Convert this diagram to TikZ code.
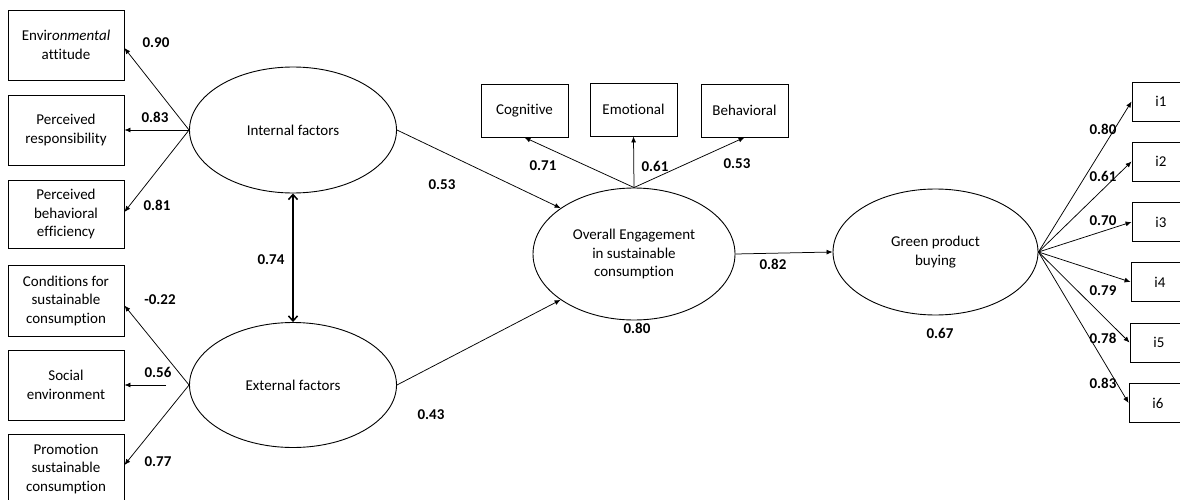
\documentclass[tikz,border=0pt]{standalone}
\usepackage{fontspec}
\setmainfont{Carlito}[Ligatures={NoCommon}]
\usetikzlibrary{arrows.meta,shapes.geometric}
\tikzset{
  box/.style={draw, line width=0.9pt, inner sep=0pt, align=center, font=\fontsize{15}{18.5}\selectfont},
  lbox/.style={box, minimum width=116pt, minimum height=70pt},
  tbox/.style={box, minimum width=87pt, minimum height=53pt},
  ibox/.style={box, minimum width=58pt, minimum height=39pt},
  lat/.style={draw, ellipse, line width=0.9pt, inner sep=0pt, align=center, font=\fontsize{15}{18.5}\selectfont},
  path/.style={draw, line width=0.75pt, -{Latex[length=6pt,width=5pt]}},
  lab/.style={font=\fontsize{15}{18}\selectfont\bfseries, inner sep=0pt},
}
\begin{document}
\begin{tikzpicture}[x=1pt,y=-1pt]
\clip (0,0) rectangle (1180,500);
% left indicators
\node[lbox] (ea) at (66,45) {Envir\textit{onmental}\\attitude};
\node[lbox] (pr) at (66,130) {Perceived\\responsibility};
\node[lbox, minimum height=68pt] (pbe) at (66,214) {Perceived\\behavioral\\efficiency};
\node[lbox, minimum height=71pt] (cs) at (66,300.5) {Conditions for\\sustainable\\consumption};
\node[lbox] (se) at (66,385) {Social\\environment};
\node[lbox] (ps) at (66,469) {Promotion\\sustainable\\consumption};
% latent variables
\node[lat, minimum width=207pt, minimum height=126pt] (int) at (293,130) {Internal factors};
\node[lat, minimum width=207pt, minimum height=125pt] (ext) at (293,385) {External factors};
\node[lat, minimum width=202pt, minimum height=132pt] (eng) at (634,254) {Overall Engagement\\in sustainable\\consumption};
\node[lat, minimum width=205pt, minimum height=126pt] (gpb) at (935.5,252) {Green product\\buying};
% engagement indicators
\node[tbox] (cog) at (524.5,110.5) {Cognitive};
\node[tbox] (emo) at (633.5,109.5) {Emotional};
\node[tbox] (beh) at (744.5,110.5) {Behavioral};
% item boxes
\node[ibox] (i1) at (1161,101.5) {i1};
\node[ibox] (i2) at (1161,161.5) {i2};
\node[ibox] (i3) at (1161,222) {i3};
\node[ibox] (i4) at (1160,282) {i4};
\node[ibox] (i5) at (1159,342.5) {i5};
\node[ibox] (i6) at (1158,403) {i6};
\coordinate (sestart) at (166,385);
% loadings
\draw[path] (int.west) -- ([yshift=-3pt]ea.east);
\draw[path] (int.west) -- (pr.east);
\draw[path] (int.west) -- ([yshift=2pt]pbe.east);
\draw[path] (ext.west) -- ([yshift=-5pt]cs.east);
\draw[path] (sestart) -- (se.east);
\draw[path] (ext.west) -- ([yshift=4pt]ps.east);
\draw[line width=1.5pt, {Straight Barb[length=5pt,width=9pt]}-{Straight Barb[length=5pt,width=9pt]}] (int.south) -- (ext.north);
\draw[path] (int.east) -- (eng.148);
\draw[path] (ext.east) -- (eng.212);
\draw[path] (eng.north) -- (cog.south);
\draw[path] (eng.north) -- (emo.south);
\draw[path] (eng.north) -- (beh.south);
\draw[path] (eng.east) -- (gpb.west);
\foreach \i in {1,...,6} {\draw[path] (gpb.east) -- (i\i.west);}
% labels
\node[lab] (l1) at (156,43) {0.90};
\node[lab] (l2) at (155,117) {0.83};
\node[lab] (l3) at (157,205) {0.81};
\node[lab] (l4) at (160,300) {-0.22};
\node[lab] (l5) at (158,372) {0.56};
\node[lab] (l6) at (158,462) {0.77};
\node[lab] (l7) at (271,260) {0.74};
\node[lab] (l8) at (442,185) {0.53};
\node[lab] (l9) at (431,415) {0.43};
\node[lab] (l10) at (543,166) {0.71};
\node[lab] (l11) at (655,166) {0.61};
\node[lab] (l12) at (737,164) {0.53};
\node[lab] (l13) at (637,328) {0.80};
\node[lab] (l14) at (773,264) {0.82};
\node[lab] (l15) at (940,333) {0.67};
\node[lab] (r1) at (1103,129) {0.80};
\node[lab] (r2) at (1103,176) {0.61};
\node[lab] (r3) at (1103,221) {0.70};
\node[lab] (r4) at (1103,291) {0.79};
\node[lab] (r5) at (1103,338) {0.78};
\node[lab] (r6) at (1103,383) {0.83};
\end{tikzpicture}
\end{document}
